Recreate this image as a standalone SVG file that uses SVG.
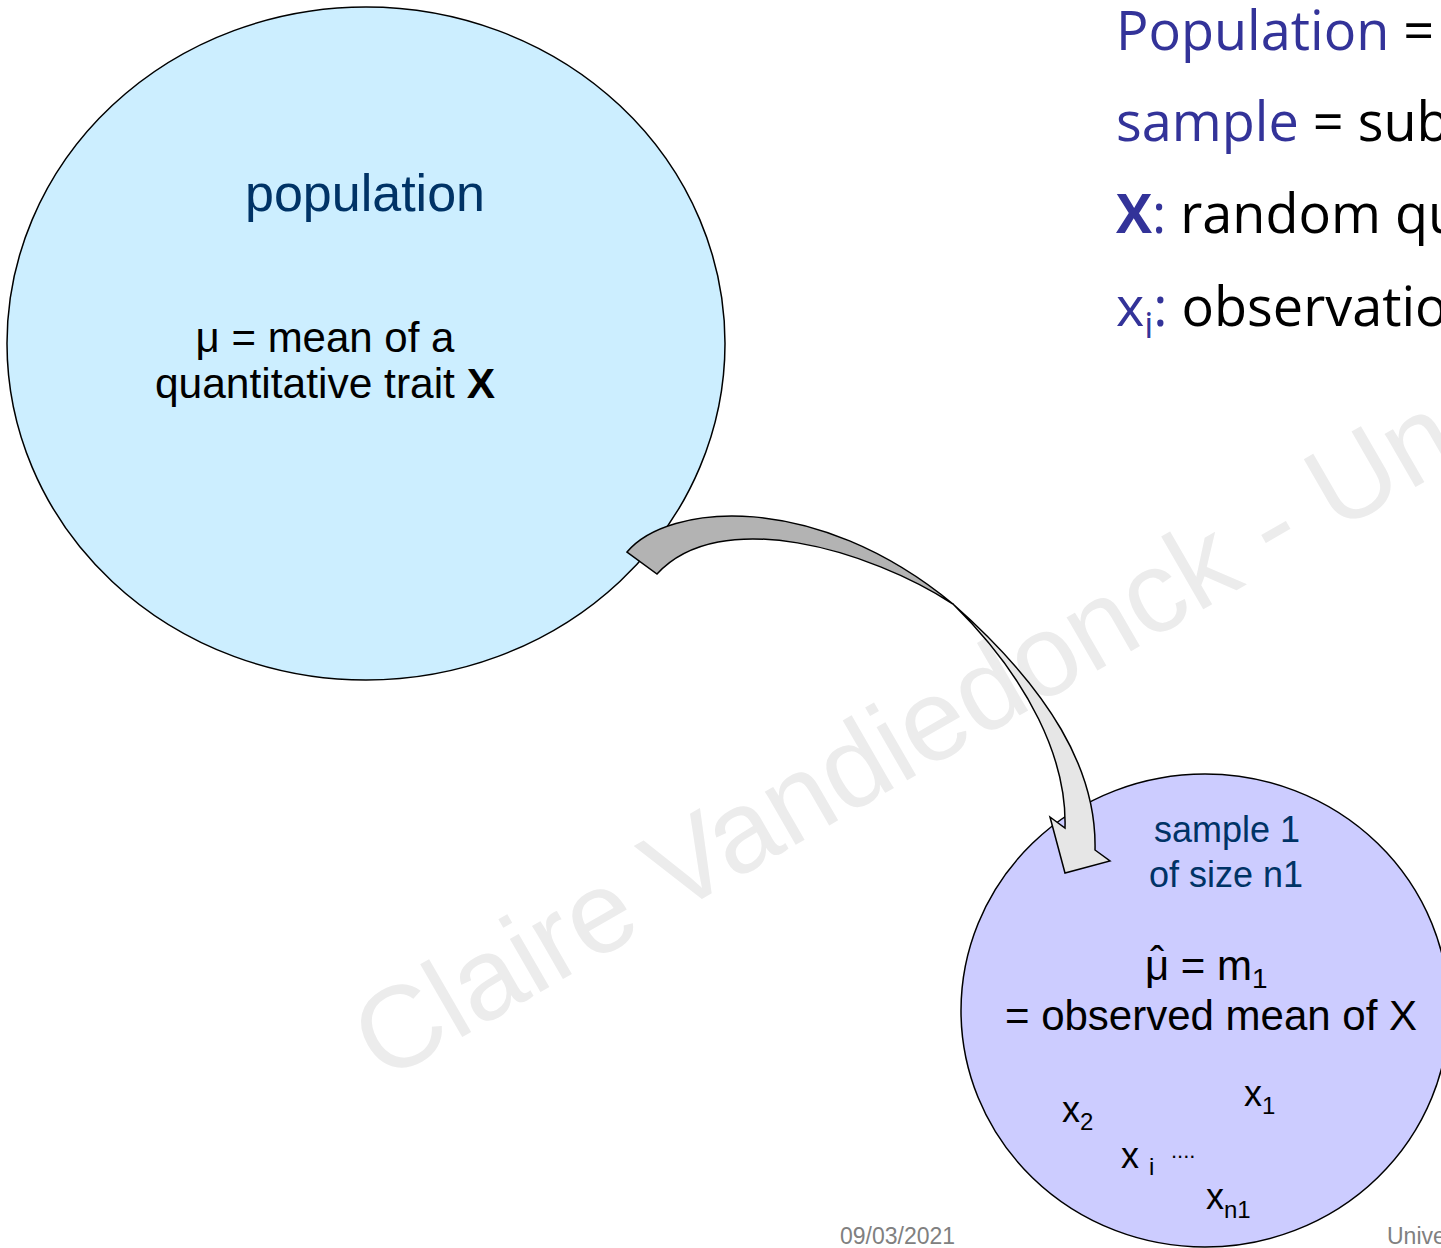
<svg xmlns="http://www.w3.org/2000/svg" width="1441" height="1248" viewBox="0 0 1441 1248">
  <style>
    .sans { font-family: "Liberation Sans", Arial, sans-serif; }
    .body { font-family: "Open Sans", "Noto Sans", sans-serif; font-size: 54px; fill: #000; }
    .key { fill: #333399; }
    .navy { fill: #003366; }
    .ink { fill: #000; }
    .shape { stroke: #000; stroke-width: 1.5; }
    .foot { font-family: "Liberation Sans", Arial, sans-serif; font-size: 23px; fill: #808080; }
    .mark { font-family: "Liberation Sans", Arial, sans-serif; font-size: 116px; fill: #ececec; }
  </style>

  <rect x="0" y="0" width="1441" height="1248" fill="#ffffff"/>

  <!-- author watermark -->
  <text class="mark" x="0" y="0" transform="translate(383,1083) rotate(-30)">Claire Vandiedonck - Un</text>

  <!-- definitions (top right) -->
  <g id="definitions" class="body">
    <text x="1116" y="50"><tspan class="key">Population</tspan> =</text>
    <text x="1116" y="141"><tspan class="key">sample</tspan> = sub</text>
    <text x="1116" y="233"><tspan class="key" font-weight="bold">X</tspan><tspan class="key">:</tspan> random qu</text>
    <text x="1116" y="326"><tspan class="key">x</tspan><tspan class="key" font-size="36" dy="12">i</tspan><tspan class="key" dy="-12">:</tspan> observatio</text>
  </g>

  <!-- population node -->
  <g id="population">
    <ellipse class="shape" cx="366" cy="343.5" rx="359" ry="336.5" fill="#cceeff"/>
    <text class="sans navy" x="365" y="211" font-size="52" text-anchor="middle">population</text>
    <text class="sans ink" x="325" y="352" font-size="42" text-anchor="middle">μ = mean of a</text>
    <text class="sans ink" x="325" y="398" font-size="42.5" text-anchor="middle">quantitative trait <tspan font-weight="bold">X</tspan></text>
  </g>

  <!-- sample node -->
  <g id="sample1">
    <ellipse class="shape" cx="1205" cy="1010.5" rx="244" ry="236.5" fill="#ccccff"/>
    <text class="sans navy" x="1227" y="842" font-size="36" text-anchor="middle">sample 1</text>
    <text class="sans navy" x="1226" y="887" font-size="36" text-anchor="middle">of size n1</text>
    <!-- estimator: mu with a circumflex raised over it -->
    <text class="sans ink" x="1145" y="980" font-size="42">μ<tspan dx="-19" dy="-4">ˆ</tspan><tspan dx="5" dy="4"> = m</tspan><tspan font-size="28" dy="8">1</tspan></text>
    <text class="sans ink" x="1211" y="1030" font-size="42" text-anchor="middle">= observed mean of X</text>
    <text class="sans ink" x="1062" y="1122" font-size="36">x<tspan font-size="24" dy="8">2</tspan></text>
    <text class="sans ink" x="1244" y="1106" font-size="36">x<tspan font-size="24" dy="8">1</tspan></text>
    <text class="sans ink" x="1121" y="1168" font-size="36">x<tspan font-size="24" dx="10" dy="7">i</tspan></text>
    <text class="sans ink" x="1171" y="1158" font-size="22">....</text>
    <text class="sans ink" x="1206" y="1209" font-size="36">x<tspan font-size="24" dy="9">n1</tspan></text>
  </g>

  <!-- curved block arrow: population -> sample 1 -->
  <g id="connectors">
    <path class="shape" fill="#b3b3b3" d="M627,552 C668,503 815,490 953,604 C870,550 720,505 657,574 Z"/>
    <path class="shape" fill="#e6e6e6" d="M953,604 C1050,690 1097,770 1095,850 L1110,861 L1065,873 L1050,817 L1065,828 C1067,760 1030,680 953,604 Z"/>
  </g>

  <!-- footer -->
  <g id="footer">
    <text class="foot" x="840" y="1244">09/03/2021</text>
    <text class="foot" x="1387" y="1244">Unive</text>
  </g>
</svg>
